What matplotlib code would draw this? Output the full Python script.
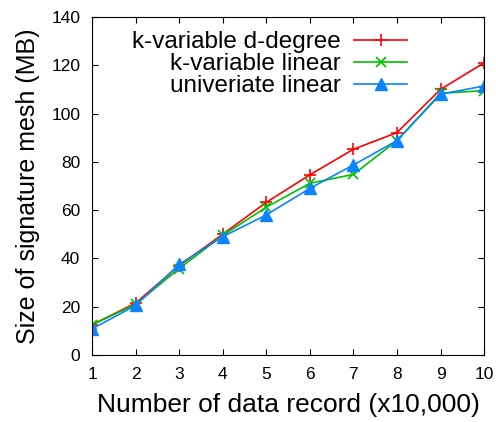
import matplotlib
matplotlib.use("Agg")
import matplotlib.pyplot as plt

plt.rcParams['font.family'] = ['Liberation Sans', 'DejaVu Sans']

records = [1, 2, 3, 4, 5, 6, 7, 8, 9, 10]
d_degree = [12.5, 21.5, 37.0, 50.0, 63.2, 74.6, 85.2, 92.1, 110.0, 121.0]
k_linear = [12.5, 21.0, 35.8, 49.5, 61.2, 71.1, 74.8, 88.8, 108.4, 109.5]
uni_linear = [10.8, 20.5, 37.5, 49.0, 58.0, 69.0, 78.7, 88.8, 108.0, 111.4]
yticks = [0, 20, 40, 60, 80, 100, 120, 140]

fig = plt.figure(figsize=(4.96, 4.22), dpi=100)
ax = fig.add_axes([0.1855, 0.1588, 0.7905, 0.801])

ax.plot(records, d_degree, color='#ff0000', marker='+', ms=8, mew=1.2, lw=1.2,
        label='k-variable d-degree')
ax.plot(records, k_linear, color='#00c000', marker='x', ms=7, mew=1.2, lw=1.2,
        label='k-variable linear')
ax.plot(records, uni_linear, color='#0a84ff', marker='^', ms=8, lw=1.2,
        label='univeriate linear')

ax.set_xlim(1, 10)
ax.set_ylim(0, 140)
ax.set_xticks(records)
ax.set_yticks(yticks)
ax.tick_params(direction='in', top=True, right=True, labelsize=12.5, length=4,
               pad=8.5)
ax.set_xlabel('Number of data record (x10,000)', fontsize=19, labelpad=8)
ax.set_ylabel('Size of signature mesh (MB)', fontsize=18, labelpad=8)

leg = ax.legend(loc='upper right', bbox_to_anchor=(0.804, 0.958),
                markerfirst=False, frameon=False, fontsize=17.5,
                handlelength=2.2, labelspacing=0.0, borderaxespad=0,
                borderpad=0, handletextpad=0.53)

fig.savefig('out.png', dpi=100)
